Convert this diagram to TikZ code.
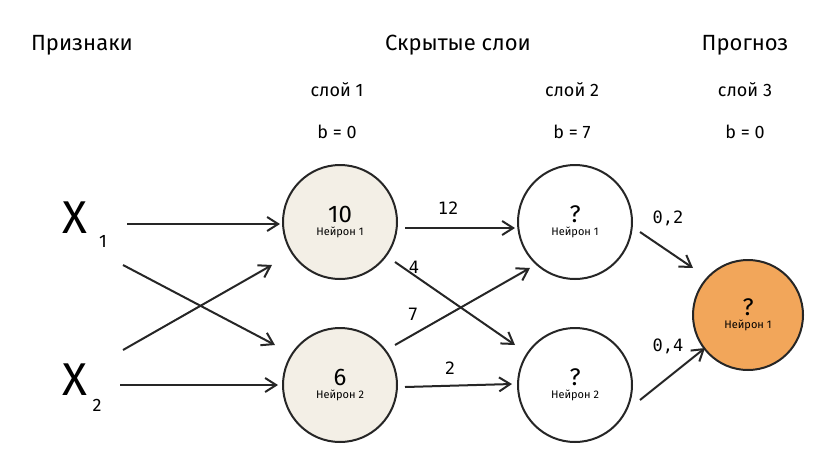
\documentclass[tikz,border=0pt]{standalone}
\usepackage{fontspec}
\setmainfont{Fira Sans}
\newfontfamily\monof{DejaVu Sans Mono}
\usetikzlibrary{arrows.meta}
\definecolor{beige}{HTML}{F3EFE6}
\definecolor{outc}{HTML}{F2A65A}
\begin{document}
\begin{tikzpicture}[x=1pt,y=-1pt,
  hdr/.style={font=\fontsize{22}{25}\selectfont},
  sub/.style={font=\fontsize{18}{21}\selectfont},
  wt/.style={font=\monof\fontsize{17}{20}\selectfont},
  neu/.style={circle,draw=black!85,line width=2pt,minimum size=114pt,inner sep=0pt,align=center},
  arr/.style={-{Straight Barb[length=11pt,width=14pt]},line width=2pt,black!85}]
\useasboundingbox (0,0) rectangle (829,472);
\node[hdr] (t1) at (82,45) {Признаки};
\node[hdr] (t2) at (458,45) {Скрытые слои};
\node[hdr] (t3) at (745,45) {Прогноз};
\node[sub] (l1) at (337,90) {слой 1};
\node[sub] (l2) at (572,90) {слой 2};
\node[sub] (l3) at (745,90) {слой 3};
\node[sub] (b1) at (337,132) {b = 0};
\node[sub] (b2) at (572,132) {b = 7};
\node[sub] (b3) at (745,132) {b = 0};
\node[font=\fontsize{46}{50}\selectfont] (x1) at (75,218) {X};
\node[sub] (x1s) at (103,241) {1};
\node[font=\fontsize{46}{50}\selectfont] (x2) at (75,380) {X};
\node[sub] (x2s) at (97,405) {2};
\newcommand{\neulab}[2]{{\fontsize{24}{26}\selectfont #1}\\[1pt]{\fontsize{11}{12}\selectfont #2}}
\node[neu,fill=beige] (h1) at (340,222) {\neulab{10}{Нейрон 1}};
\node[neu,fill=beige] (h2) at (340,385) {\neulab{6}{Нейрон 2}};
\node[neu,fill=white] (s1) at (575,222) {\neulab{?}{Нейрон 1}};
\node[neu,fill=white] (s2) at (575,385) {\neulab{?}{Нейрон 2}};
\node[neu,fill=outc,minimum size=110pt] (o) at (748,315) {\neulab{?}{Нейрон 1}};
\coordinate (a1) at (127,224); \coordinate (a2) at (280,224);
\coordinate (a3) at (123,265); \coordinate (a4) at (275,345);
\coordinate (a5) at (123,350); \coordinate (a6) at (272,265);
\coordinate (a7) at (120,385); \coordinate (a8) at (278,385);
\draw[arr] (a1) -- (a2);
\draw[arr] (a3) -- (a4);
\draw[arr] (a5) -- (a6);
\draw[arr] (a7) -- (a8);
\coordinate (c1) at (405,228); \coordinate (c2) at (515,228);
\coordinate (c3) at (395,262); \coordinate (c4) at (515,345);
\coordinate (c5) at (395,345); \coordinate (c6) at (530,268);
\coordinate (c7) at (405,387); \coordinate (c8) at (512,384);
\coordinate (c9) at (640,232); \coordinate (c10) at (693,268);
\coordinate (c11) at (640,400); \coordinate (c12) at (705,348);
\draw[arr] (c1) -- (c2);
\draw[arr] (c3) -- (c4);
\draw[arr] (c5) -- (c6);
\draw[arr] (c7) -- (c8);
\draw[arr] (c9) -- (c10);
\draw[arr] (c11) -- (c12);
\node[wt] (w1) at (448,208) {12};
\node[wt] (w2) at (414,267) {4};
\node[wt] (w3) at (413,314) {7};
\node[wt] (w4) at (450,368) {2};
\node[wt] (w5) at (668,218) {0,2};
\node[wt] (w6) at (668,346) {0,4};
\end{tikzpicture}
\end{document}
